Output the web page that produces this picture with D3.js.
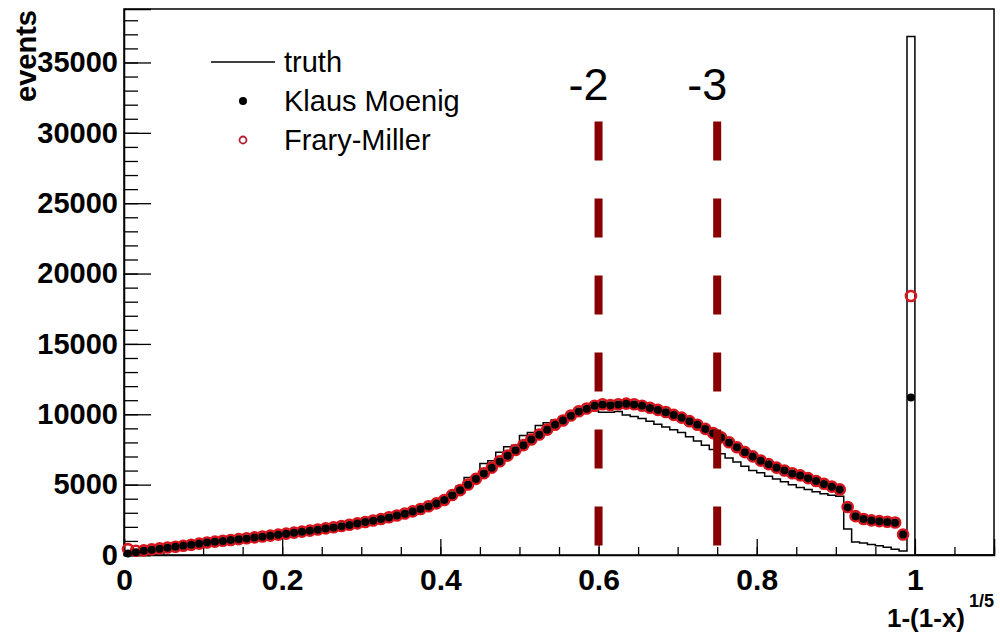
<!DOCTYPE html>
<html lang="en">
  <head>
    <meta charset="UTF-8" />
    <title>events vs 1-(1-x)^1/5</title>
    <script src="https://d3js.org/d3.v7.min.js"></script>
    <style>
      body { margin: 0; background: #fff; }
      text { font-family: "Liberation Sans", Arial, sans-serif; }
    </style>
  </head>
  <body>
    <svg id="chart" width="1000" height="637"></svg>

    <script>
      // bins of width 0.01 from 0 to 1, axis runs to 1.1
      const binWidth = 0.01;

      const truth = [
        250, 300, 350, 420, 480, 540, 600, 660, 720, 800,
        870, 930, 1000, 1050, 1110, 1180, 1240, 1290, 1370, 1430,
        1500, 1580, 1660, 1730, 1800, 1900, 1970, 2060, 2150, 2260,
        2350, 2460, 2580, 2700, 2830, 2980, 3130, 3320, 3520, 3760,
        4000, 4400, 4900, 5500, 5600, 6500, 6700, 7300, 7700, 7800,
        8500, 8700, 9200, 9400, 9600, 9800, 10000, 10100, 10200, 10250,
        10150, 10150, 10200, 9950, 9850, 9700, 9500, 9300, 9100, 8900,
        8700, 8400, 8100, 7800, 7500, 7200, 6900, 6600, 6300, 6000,
        5850, 5600, 5400, 5200, 5000, 4800, 4650, 4500, 4350, 4250,
        4180, 1840, 920, 850, 750, 650, 550, 400, 280, 36850
      ];

      const klausMoenig = [
        100, 200, 300, 380, 450, 520, 580, 650, 720, 800,
        880, 940, 1000, 1060, 1120, 1180, 1240, 1300, 1370, 1440,
        1510, 1580, 1650, 1720, 1800, 1880, 1960, 2050, 2140, 2240,
        2340, 2440, 2550, 2670, 2800, 2940, 3090, 3260, 3450, 3660,
        3900, 4250, 4600, 5000, 5400, 5800, 6200, 6650, 7050, 7450,
        7800, 8200, 8550, 8900, 9250, 9550, 9900, 10200, 10400, 10600,
        10700, 10650, 10700, 10750, 10700, 10600, 10450, 10300, 10150, 9950,
        9750, 9500, 9250, 8950, 8650, 8350, 8000, 7650, 7300, 7000,
        6700, 6450, 6200, 6000, 5800, 5650, 5450, 5250, 5050, 4850,
        4650, 3400, 2750, 2550, 2450, 2400, 2350, 2300, 1450, 11200
      ];

      const fraryMiller = [
        420, 300, 330, 400, 470, 530, 590, 660, 730, 810,
        890, 950, 1010, 1070, 1130, 1190, 1250, 1310, 1380, 1450,
        1520, 1590, 1660, 1730, 1810, 1890, 1970, 2060, 2150, 2250,
        2350, 2450, 2560, 2680, 2810, 2950, 3100, 3270, 3460, 3670,
        3910, 4260, 4610, 5010, 5410, 5810, 6210, 6660, 7060, 7460,
        7810, 8210, 8560, 8910, 9260, 9560, 9910, 10210, 10410, 10610,
        10710, 10660, 10710, 10760, 10710, 10610, 10460, 10310, 10160, 9960,
        9760, 9510, 9260, 8960, 8660, 8360, 8010, 7660, 7310, 7010,
        6710, 6460, 6210, 6010, 5810, 5660, 5460, 5260, 5060, 4860,
        4660, 3410, 2760, 2560, 2460, 2410, 2360, 2310, 1460, 18400
      ];

      const xMajorTicks = [0, 0.2, 0.4, 0.6, 0.8, 1];
      const yMajorTicks = [0, 5000, 10000, 15000, 20000, 25000, 30000, 35000];

      const markerLines = [0.6, 0.75];
      const markerLabels = ["-2", "-3"];
      const markerTop = 30800;

      const legendItems = ["truth", "Klaus Moenig", "Frary-Miller"];

      const svg = d3.select("#chart"),
        margin = { top: 9, right: 6, bottom: 82, left: 124 },
        width = +svg.attr("width") - margin.left - margin.right,
        height = +svg.attr("height") - margin.top - margin.bottom,
        chart = svg
          .append("g")
          .attr("transform", `translate(${margin.left},${margin.top})`);

      const x = d3.scaleLinear().domain([0, 1.1]).range([0, width]);
      const y = d3.scaleLinear().domain([0, 38800]).range([height, 0]);

      // frame
      chart
        .append("rect")
        .attr("width", width)
        .attr("height", height)
        .attr("fill", "none")
        .attr("stroke", "#000")
        .attr("stroke-width", 1.5);

      // y axis, ticks pointing inward
      chart
        .append("g")
        .call(d3.axisLeft(y).tickValues(d3.range(0, 38001, 1000)).tickSize(-14).tickFormat(""))
        .call((g) => g.select(".domain").remove());
      const yAxis = chart
        .append("g")
        .call(d3.axisLeft(y).tickValues(yMajorTicks).tickSize(-27).tickPadding(6).tickFormat(d3.format("d")));
      yAxis.select(".domain").attr("stroke-width", 1.5);
      yAxis
        .selectAll("text")
        .attr("font-size", 29)
        .attr("font-weight", "bold")
        .attr("fill", "#000");

      // x axis
      chart
        .append("g")
        .attr("transform", `translate(0,${height})`)
        .call(d3.axisBottom(x).tickValues(d3.range(0, 1.1001, 0.05)).tickSize(-8).tickFormat(""))
        .call((g) => g.select(".domain").remove());
      const xAxis = chart
        .append("g")
        .attr("transform", `translate(0,${height})`)
        .call(d3.axisBottom(x).tickValues(xMajorTicks).tickSize(-16).tickPadding(14).tickFormat((d) => String(d)));
      xAxis.select(".domain").attr("stroke-width", 1.5);
      xAxis
        .selectAll("text")
        .attr("font-size", 30)
        .attr("font-weight", "bold")
        .attr("fill", "#000");
      chart.selectAll(".tick line").attr("stroke", "#000").attr("stroke-width", 1.3);

      // axis titles
      svg
        .append("text")
        .attr("transform", "translate(36,10) rotate(-90)")
        .attr("text-anchor", "end")
        .attr("font-size", 29)
        .attr("font-weight", "bold")
        .text("events");

      svg
        .append("text")
        .attr("x", 965)
        .attr("y", 627)
        .attr("text-anchor", "end")
        .attr("font-size", 26)
        .attr("font-weight", "bold")
        .text("1-(1-x)");
      svg
        .append("text")
        .attr("x", 969)
        .attr("y", 607)
        .attr("font-size", 18)
        .attr("font-weight", "bold")
        .text("1/5");

      // truth histogram outline
      const truthPts = truth.map((v, i) => [i * binWidth, v]);
      truthPts.push([1.0, 0], [1.1, 0]);
      chart
        .append("path")
        .datum(truthPts)
        .attr("fill", "none")
        .attr("stroke", "#000")
        .attr("stroke-width", 1.5)
        .attr("d", d3.line().x((d) => x(d[0])).y((d) => y(d[1])).curve(d3.curveStepAfter));

      // data points
      chart
        .selectAll("circle.frary")
        .data(fraryMiller)
        .enter()
        .append("circle")
        .attr("class", "frary")
        .attr("cx", (d, i) => x((i + 0.5) * binWidth))
        .attr("cy", (d) => y(d))
        .attr("r", 5)
        .attr("fill", "none")
        .attr("stroke", "#d8141c")
        .attr("stroke-width", 2.6);

      chart
        .selectAll("circle.klaus")
        .data(klausMoenig)
        .enter()
        .append("circle")
        .attr("class", "klaus")
        .attr("cx", (d, i) => x((i + 0.5) * binWidth))
        .attr("cy", (d) => y(d))
        .attr("r", 4)
        .attr("fill", "#000");

      // dashed marker lines
      chart
        .selectAll("line.marker")
        .data(markerLines)
        .enter()
        .append("line")
        .attr("class", "marker")
        .attr("x1", (d) => x(d))
        .attr("x2", (d) => x(d))
        .attr("y1", y(markerTop))
        .attr("y2", y(0))
        .attr("stroke", "#880000")
        .attr("stroke-width", 8)
        .attr("stroke-dasharray", "39,38");

      chart
        .selectAll("text.marker")
        .data(markerLines)
        .enter()
        .append("text")
        .attr("x", (d) => x(d) - 10)
        .attr("y", 91)
        .attr("text-anchor", "middle")
        .attr("font-size", 45)
        .text((d, i) => markerLabels[i]);

      // legend
      const legend = svg.append("g").attr("transform", "translate(211,62)");
      legend.append("line").attr("x1", 0).attr("x2", 64).attr("stroke", "#000").attr("stroke-width", 1.5);
      legend.append("circle").attr("cx", 32).attr("cy", 39).attr("r", 4).attr("fill", "#000");
      legend
        .append("circle")
        .attr("cx", 32)
        .attr("cy", 78)
        .attr("r", 3.5)
        .attr("fill", "none")
        .attr("stroke", "#b02030")
        .attr("stroke-width", 1.8);
      legend
        .selectAll("text")
        .data(legendItems)
        .enter()
        .append("text")
        .attr("x", 73)
        .attr("y", (d, i) => i * 39)
        .attr("dy", "0.35em")
        .attr("font-size", 29)
        .text((d) => d);
    </script>
  </body>
</html>
